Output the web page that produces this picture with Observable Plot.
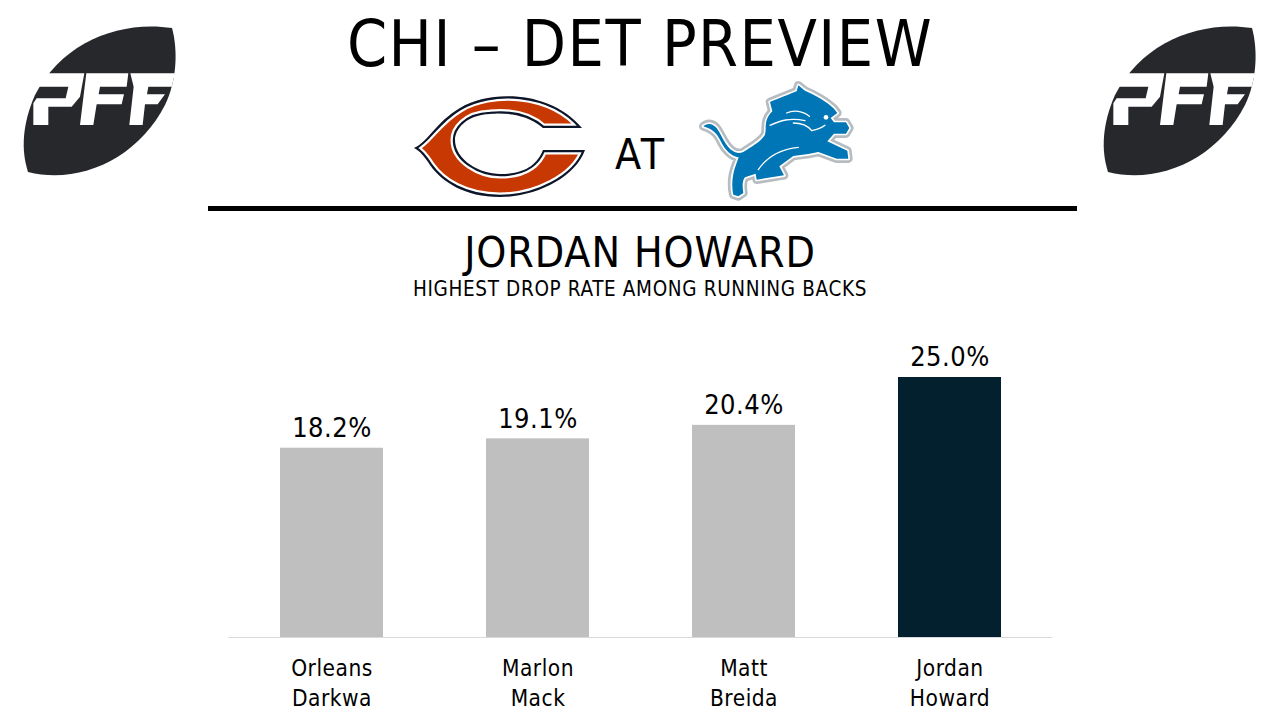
<!DOCTYPE html>
<html><head><meta charset="utf-8">
<script src="https://cdn.jsdelivr.net/npm/d3@7"></script>
<script src="https://cdn.jsdelivr.net/npm/@observablehq/plot@0.6"></script>
<style>
html,body{margin:0;padding:0;background:#fff;width:1280px;height:720px;overflow:hidden}
body{position:relative;font-family:"DejaVu Sans Condensed","DejaVu Sans",sans-serif;color:#000}
.t{position:absolute;left:0;width:1280px;text-align:center;white-space:nowrap}
#title{top:6px;font-size:64px;line-height:76px;letter-spacing:1.5px}
#at{position:absolute;left:615px;top:128px;font-size:42.5px;line-height:54px;letter-spacing:3px}
#rule{position:absolute;left:208px;top:206px;width:869px;height:5px;background:#000}
#sub{top:226px;font-size:42.5px;line-height:54px;letter-spacing:.9px}
#desc{top:276px;font-size:20.5px;line-height:26px;letter-spacing:.65px}
#chart{position:absolute;left:0;top:330px}
svg.logo{position:absolute;left:0;top:0}
</style></head><body>
<svg class="logo" width="1280" height="220" viewBox="0 0 1280 220">
<defs>
<g id="pff">
<path fill="#26282c" d="M172 28C120 20 62 42 35 95C22 125 21 150 28 172C80 185 138 158 165 105C177 80 178 50 172 28Z"/>
<g transform="translate(25 65) scale(.3333)" fill="#fff">
<path d="M60 25L178 25L165 95L140 125L70 125L70 180L25 180L25 115L35 100L122 100L130 65L30 65Z"/>
<path d="M184 25L310 25L305 65L225 65L221 88L297 88L290 118L215 118L205 180L165 180Z"/>
<path d="M316 25L450 25L440 65L370 65L366 88L420 88L398 118L360 118L353 180L313 180L326 65Z"/>
</g>
</g>
<path id="cshape" d="M414 148C428 142 436 122 460 108C490 90 550 90 582 128L543 128C525 112 500 113 490 114C465 115 455 130 455 140C455 160 480 174 500 174C525 174 537 165 543 150L585 150C575 178 535 197 500 197C465 197 442 182 430 165C425 157 420 151 414 148Z"/>
<clipPath id="cclip"><use href="#cshape"/></clipPath>
<path id="lion" d="M40 145C55 132 70 138 80 150C95 170 105 205 130 220C140 226 150 226 160 222C185 205 212 192 225 170C232 150 218 130 247 100L240 72C265 62 300 48 320 40L325 22L345 38C370 48 410 70 432 92L442 105L422 120L432 133L468 133L478 150L468 167L432 167L412 190L472 218L475 242L440 242L385 222L355 228L310 234L268 265L282 292L200 305L197 287L165 298C155 310 158 330 160 345L145 355L130 350C123 320 128 285 138 260L146 238C125 236 105 215 95 195C85 175 75 155 40 145Z"/>
</defs>
<use href="#pff"/>
<use href="#pff" x="1080"/>
<g clip-path="url(#cclip)">
<use href="#cshape" fill="#c83803"/>
<use href="#cshape" fill="none" stroke="#fff" stroke-width="9"/>
<use href="#cshape" fill="none" stroke="#0b162a" stroke-width="4.5"/>
</g>
<g transform="translate(690 78) scale(.3333)">
<use href="#lion" fill="none" stroke="#b6bcc0" stroke-width="26" stroke-linejoin="round"/>
<use href="#lion" fill="none" stroke="#fff" stroke-width="10" stroke-linejoin="round"/>
<use href="#lion" fill="#0076b6"/>
<g fill="none" stroke="#fff" stroke-width="4" stroke-linecap="round">
<path d="M240 142C270 128 300 118 345 128"/>
<path d="M290 105C310 95 340 98 358 115"/>
<path d="M310 135C335 135 355 145 365 158C380 155 395 150 405 142"/>
<path d="M205 275C225 245 260 215 325 208"/>
</g>
<circle cx="408" cy="118" r="7" fill="#fff"/>
</g>
</svg>
<div class="t" id="title">CHI – DET PREVIEW</div>
<div id="at">AT</div>
<div id="rule"></div>
<div class="t" id="sub">JORDAN HOWARD</div>
<div class="t" id="desc">HIGHEST DROP RATE AMONG RUNNING BACKS</div>
<div id="chart"></div>
<script>
const players = ["Orleans\nDarkwa","Marlon\nMack","Matt\nBreida","Jordan\nHoward"];
const dropRates = [18.2,19.1,20.4,25.0];
const barColors = ["#bfbfbf","#bfbfbf","#bfbfbf","#03202f"];
const rows = players.map((player,i)=>({player,rate:dropRates[i],color:barColors[i]}));
const chart = Plot.plot({
  width:1280,height:390,
  marginTop:47,marginBottom:83,marginLeft:228.5,marginRight:227.5,
  style:{fontFamily:'"DejaVu Sans Condensed","DejaVu Sans",sans-serif',background:"transparent",letterSpacing:"0.5px"},
  x:{domain:players,paddingInner:0.5,paddingOuter:0.25,align:0.5,axis:null},
  y:{domain:[0,25],axis:null},
  marks:[
    Plot.barY(rows,{x:"player",y:"rate",fill:"color"}),
    Plot.ruleY([0],{stroke:"#d9d9d9",strokeWidth:1}),
    Plot.text(rows,{x:"player",y:"rate",text:d=>d.rate.toFixed(1)+"%",dy:-20,fontSize:27,fill:"#000"}),
    Plot.axisX({domain:players,tickSize:0,tickPadding:17,fontSize:22.5,lineHeight:1.33,label:null,color:"#000",fill:"#000",lineAnchor:"top"})
  ]
});
document.getElementById("chart").appendChild(chart);
</script>
</body></html>
